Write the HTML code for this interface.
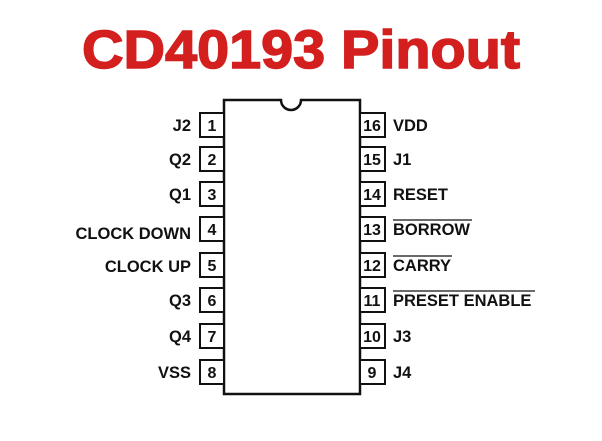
<!DOCTYPE html>
<html><head><style>
body{margin:0;background:#fff;width:602px;height:436px;overflow:hidden}
svg text{font-family:"Liberation Sans",Arial,sans-serif;font-weight:bold}
</style></head><body>
<svg width="602" height="436" viewBox="0 0 602 436">
<text x="82" y="68" font-size="54" fill="#d41f1f" stroke="#d41f1f" stroke-width="1.5" textLength="438" lengthAdjust="spacingAndGlyphs">CD40193 Pinout</text>
<path d="M224 394 V100 H281 A10 10 0 0 0 301 100 H360 V394 Z" fill="none" stroke="#111" stroke-width="2.5"/>
<g stroke="#111" stroke-width="2" fill="#fff">
<rect x="200" y="113" width="24" height="24"/><rect x="200" y="147" width="24" height="24"/>
<rect x="200" y="182" width="24" height="24"/><rect x="200" y="217" width="24" height="24"/>
<rect x="200" y="253" width="24" height="24"/><rect x="200" y="288" width="24" height="24"/>
<rect x="200" y="324" width="24" height="24"/><rect x="200" y="360" width="24" height="24"/>
<rect x="360" y="113" width="25" height="24"/><rect x="360" y="147" width="25" height="24"/>
<rect x="360" y="182" width="25" height="24"/><rect x="360" y="217" width="25" height="24"/>
<rect x="360" y="253" width="25" height="24"/><rect x="360" y="288" width="25" height="24"/>
<rect x="360" y="324" width="25" height="24"/><rect x="360" y="360" width="25" height="24"/>
</g>
<g font-size="16" fill="#111" text-anchor="middle">
<text x="212" y="131">1</text><text x="212" y="165">2</text><text x="212" y="200">3</text><text x="212" y="235">4</text>
<text x="212" y="271">5</text><text x="212" y="306">6</text><text x="212" y="342">7</text><text x="212" y="378">8</text>
<text x="372" y="131">16</text><text x="372" y="165">15</text><text x="372" y="200">14</text><text x="372" y="235">13</text>
<text x="372" y="271">12</text><text x="372" y="306">11</text><text x="372" y="342">10</text><text x="372" y="378">9</text>
</g>
<g font-size="16.5" fill="#111" text-anchor="end">
<text x="191" y="131">J2</text><text x="191" y="165">Q2</text><text x="191" y="200">Q1</text><text x="191" y="239">CLOCK DOWN</text>
<text x="191" y="272">CLOCK UP</text><text x="191" y="306">Q3</text><text x="191" y="342">Q4</text><text x="191" y="378">VSS</text>
</g>
<g font-size="16.5" fill="#111">
<text x="393" y="131">VDD</text><text x="393" y="165">J1</text><text x="393" y="200">RESET</text><text x="393" y="235">BORROW</text>
<text x="393" y="271">CARRY</text><text x="393" y="306">PRESET ENABLE</text><text x="393" y="342">J3</text><text x="393" y="378">J4</text>
</g>
<g stroke="#111" stroke-width="1.3">
<line x1="393" y1="220" x2="472" y2="220"/><line x1="393" y1="256" x2="452" y2="256"/><line x1="393" y1="291" x2="535" y2="291"/>
</g>
</svg>
</body></html>
